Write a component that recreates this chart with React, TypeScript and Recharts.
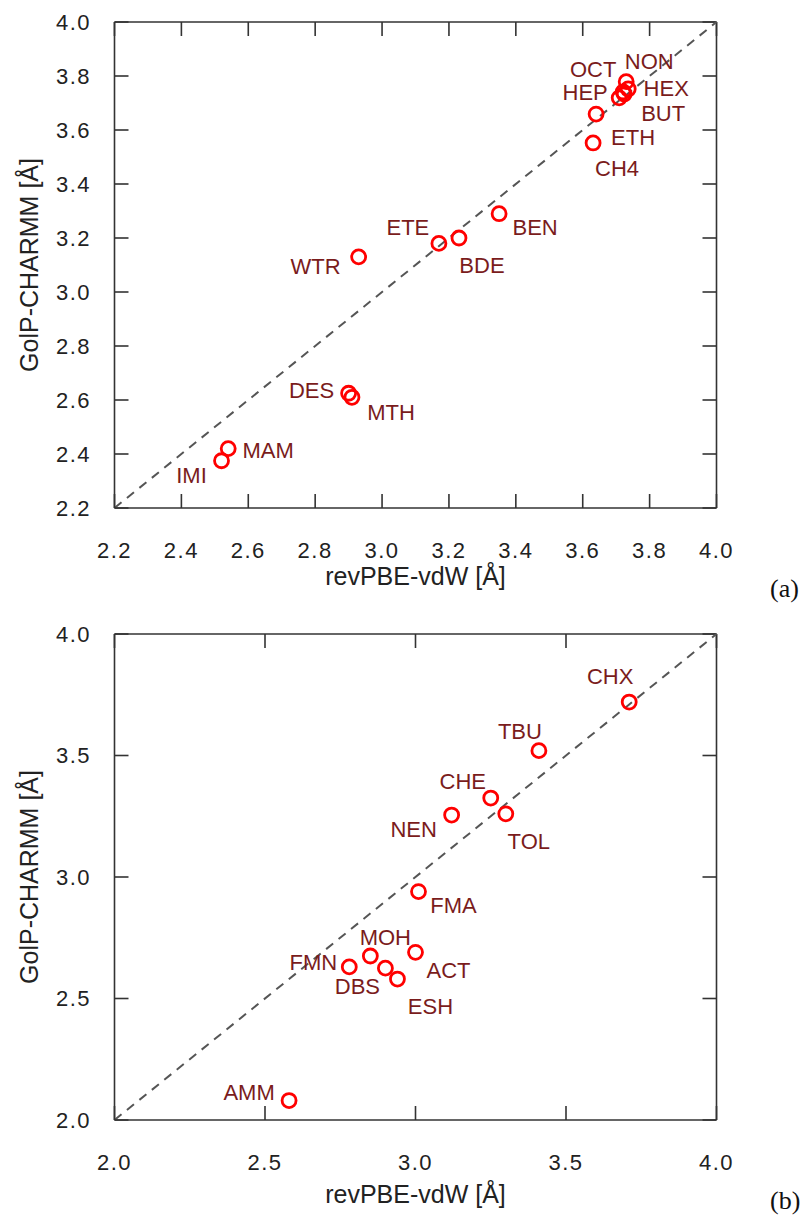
import React from 'react';
import {
  ScatterChart,
  Scatter,
  XAxis,
  YAxis,
  ReferenceLine,
} from 'recharts';

// panel (a)
const namesA = ['NON', 'OCT', 'HEX', 'BUT', 'HEP', 'ETH', 'CH4', 'BEN', 'BDE', 'ETE', 'WTR', 'DES', 'MTH', 'MAM', 'IMI'];
const revPbeA = [3.73, 3.721, 3.736, 3.724, 3.709, 3.64, 3.631, 3.35, 3.23, 3.17, 2.93, 2.9, 2.91, 2.54, 2.52];
const golpA = [3.779, 3.741, 3.752, 3.733, 3.719, 3.659, 3.552, 3.29, 3.2, 3.18, 3.13, 2.625, 2.61, 2.42, 2.375];
const ticksA = [2.2, 2.4, 2.6, 2.8, 3.0, 3.2, 3.4, 3.6, 3.8, 4.0];

// panel (b)
const namesB = ['CHX', 'TBU', 'CHE', 'TOL', 'NEN', 'FMA', 'MOH', 'FMN', 'DBS', 'ESH', 'ACT', 'AMM'];
const revPbeB = [3.71, 3.41, 3.25, 3.3, 3.12, 3.01, 2.85, 2.78, 2.9, 2.94, 3.0, 2.58];
const golpB = [3.72, 3.52, 3.325, 3.26, 3.255, 2.94, 2.675, 2.63, 2.625, 2.58, 2.69, 2.08];
const ticksB = [2.0, 2.5, 3.0, 3.5, 4.0];

// label offsets (px from circle centre)
const labelDxA = [23, -30, 38, 39, -34, 37, 24, 36, 23, -31, -43, -37, 39, 40, -30];
const labelDyA = [-21, -23, -1, 19, -6, 23, 25, 13, 27, -16, 9, -3, 15, 1, 14];
const labelDxB = [-19, -19, -28, 23, -38, 35, 15, -36, -28, 33, 33, -40];
const labelDyB = [-26, -20, -17, 27, 14, 13, -19, -5, 18, 27, 18, -9];

const dataA = namesA.map((n, i) => ({ name: n, x: revPbeA[i], y: golpA[i], dx: labelDxA[i], dy: labelDyA[i] }));
const dataB = namesB.map((n, i) => ({ name: n, x: revPbeB[i], y: golpB[i], dx: labelDxB[i], dy: labelDyB[i] }));

const FONT = '"Liberation Sans", Arial, sans-serif';
const AXIS = '#333';
const PLOT_W = 602;
const PLOT_H = 486;
const TICK = 14;
const tickStyle = { fontSize: 22, fill: '#222', fontFamily: FONT, letterSpacing: 1.5 };

const Marker = (props: any) => {
  const { cx, cy, payload } = props;
  return (
    <g>
      <circle cx={cx} cy={cy} r={7} fill="none" stroke="#ff0000" strokeWidth={2.8} />
      <text
        x={cx + payload.dx}
        y={cy + payload.dy + 8}
        textAnchor="middle"
        fontSize={22}
        fontFamily={FONT}
        fill="#7a1c1c"
      >
        {payload.name}
      </text>
    </g>
  );
};

const xTitle = (below: number) => (props: any) => {
  const { x, y, width } = props.viewBox;
  return (
    <text x={x + width / 2} y={y + below} textAnchor="middle" fontSize={25} fontFamily={FONT} fill="#222">
      revPBE-vdW [Å]
    </text>
  );
};

const yTitle = (props: any) => {
  const { x, y, height } = props.viewBox;
  const cx = x + 30;
  const cy = y + height / 2;
  return (
    <text
      x={cx}
      y={cy}
      transform={`rotate(-90 ${cx} ${cy})`}
      textAnchor="middle"
      fontSize={25}
      fontFamily={FONT}
      fill="#222"
    >
      GolP-CHARMM [Å]
    </text>
  );
};

function Panel({ data, ticks, lo, height, below }: any) {
  const domain = [lo, 4];
  const fmt = (v: number) => v.toFixed(1);
  // inward tick length in data units
  const tx = (TICK * (4 - lo)) / PLOT_W;
  const ty = (TICK * (4 - lo)) / PLOT_H;
  const seg = { xAxisId: 'b', yAxisId: 'l', stroke: AXIS, strokeWidth: 1.6, ifOverflow: 'visible' as const };
  return (
    <ScatterChart width={792} height={height} margin={{ top: 14, right: 83.5, bottom: 0, left: 0 }}>
      <XAxis
        xAxisId="b"
        type="number"
        dataKey="x"
        domain={domain}
        ticks={ticks}
        interval={0}
        tickFormatter={fmt}
        height={height - 14 - PLOT_H}
        tickLine={false}
        tickMargin={28}
        tick={tickStyle}
        stroke={AXIS}
        strokeWidth={1.6}
        label={{ content: xTitle(below) }}
      />
      <YAxis
        yAxisId="l"
        type="number"
        dataKey="y"
        domain={domain}
        ticks={ticks}
        interval={0}
        tickFormatter={fmt}
        width={106.5}
        tickLine={false}
        tickMargin={17.5}
        tick={tickStyle}
        stroke={AXIS}
        strokeWidth={1.6}
        label={{ content: yTitle }}
      />
      {/* frame: top and right edges */}
      <ReferenceLine {...seg} segment={[{ x: lo, y: 4 }, { x: 4, y: 4 }]} />
      <ReferenceLine {...seg} segment={[{ x: 4, y: lo }, { x: 4, y: 4 }]} />
      {/* inward ticks on all four sides */}
      {ticks.map((t: number) => (
        <ReferenceLine key={'b' + t} {...seg} segment={[{ x: t, y: lo }, { x: t, y: lo + ty }]} />
      ))}
      {ticks.map((t: number) => (
        <ReferenceLine key={'t' + t} {...seg} segment={[{ x: t, y: 4 }, { x: t, y: 4 - ty }]} />
      ))}
      {ticks.map((t: number) => (
        <ReferenceLine key={'l' + t} {...seg} segment={[{ x: lo, y: t }, { x: lo + tx, y: t }]} />
      ))}
      {ticks.map((t: number) => (
        <ReferenceLine key={'r' + t} {...seg} segment={[{ x: 4, y: t }, { x: 4 - tx, y: t }]} />
      ))}
      <ReferenceLine
        xAxisId="b"
        yAxisId="l"
        segment={[{ x: lo, y: lo }, { x: 4, y: 4 }]}
        stroke="#555"
        strokeWidth={2}
        strokeDasharray="9 7"
        ifOverflow="visible"
      />
      <Scatter xAxisId="b" yAxisId="l" data={data} shape={Marker} isAnimationActive={false} />
    </ScatterChart>
  );
}

export default function App() {
  const tag = { position: 'absolute' as const, left: 762, fontFamily: '"Liberation Serif", serif', fontSize: 26, color: '#111' };
  return (
    <div style={{ position: 'relative', width: 792, height: 1209 }}>
      <div style={{ position: 'absolute', top: 0, left: 0 }}>
        <Panel data={dataA} ticks={ticksA} lo={2.2} height={600} below={77} />
      </div>
      <div style={{ position: 'absolute', top: 612, left: 0 }}>
        <Panel data={dataB} ticks={ticksB} lo={2.0} height={597} below={83} />
      </div>
      <div style={{ ...tag, top: 566 }}>(a)</div>
      <div style={{ ...tag, top: 1178 }}>(b)</div>
    </div>
  );
}
